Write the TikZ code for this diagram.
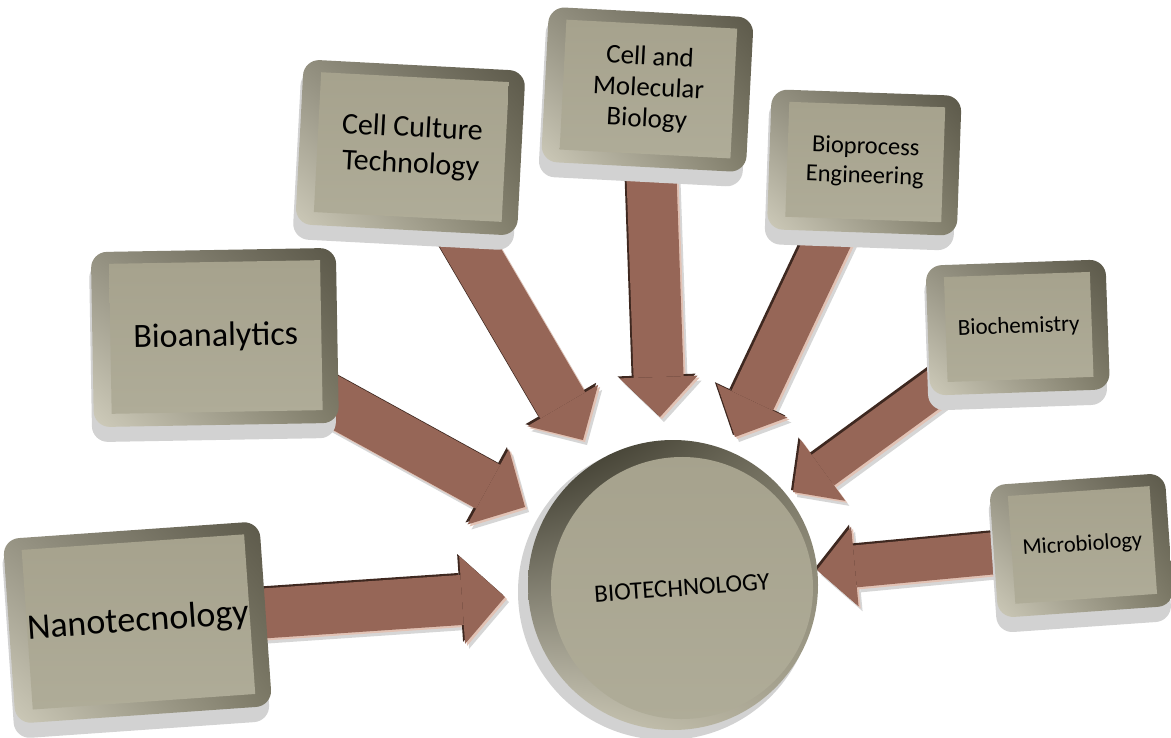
\documentclass[tikz,border=0pt]{standalone}
\usepackage{fontspec}
\setmainfont{Carlito}
\usetikzlibrary{arrows.meta,shadings}
\pgfdeclarelayer{bg}
\pgfsetlayers{bg,main}
\definecolor{facetop}{HTML}{A6A28D}
\definecolor{facebot}{HTML}{AFAC98}
\definecolor{facecol}{HTML}{AAA692}
\definecolor{slabgray}{HTML}{D2D2D2}
\definecolor{bevTL}{HTML}{939080}
\definecolor{bevTR}{HTML}{5A5748}
\definecolor{bevBL}{HTML}{D0CDBC}
\definecolor{bevBR}{HTML}{7F7C69}
\definecolor{arrowbrown}{HTML}{966657}
\definecolor{arrowdark}{HTML}{3E2820}
\definecolor{arrowlight}{HTML}{E2C2B4}
\definecolor{shadowgray}{HTML}{D6D6D6}
\definecolor{rimdark}{HTML}{2E2C20}
\tikzset{
  facebox/.style={draw=none, top color=facetop, bottom color=facebot,
    inner sep=0pt, align=center, transform shape, text=black},
  flowarrow/.style n args={3}{line width=#1pt,
    -{Triangle[width=#2pt, length=#3pt, line width=0pt]}},
}
\newcommand{\bevelbox}[8]{%
  \begin{scope}[shift={(#2,#3)}, rotate=#6]
    \pgfmathsetmacro\hw{#4/2}\pgfmathsetmacro\hh{#5/2}%
    \pgfmathsetmacro\fw{#4-34}\pgfmathsetmacro\fh{#5-40}%
    \fill[slabgray, rounded corners=16] (-\hw-2,-\hh+10) rectangle (\hw-3,\hh);
    \shade[rounded corners=16, upper left=bevTL, upper right=bevTR,
      lower left=bevBL, lower right=bevBR] (-\hw,-\hh) rectangle (\hw,\hh-15);
    \node[facebox, minimum width=\fw pt, minimum height=\fh pt, font={#7}]
      (#1) at (1,-8) {#8};
  \end{scope}}
\newcommand{\flowline}[5]{%
  \draw[flowarrow={#3}{#4}{#5}, color=shadowgray,
    transform canvas={shift={(4,5)}}] (#1.center) -- (#2);
  \draw[flowarrow={#3}{#4}{#5}, color=arrowlight,
    transform canvas={shift={(2,2)}}] (#1.center) -- (#2);
  \draw[flowarrow={#3}{#4}{#5}, color=arrowdark,
    transform canvas={shift={(-2,-2)}}] (#1.center) -- (#2);
  \draw[flowarrow={#3}{#4}{#5}, color=arrowbrown] (#1.center) -- (#2);}
\begin{document}
\begin{tikzpicture}[x=1pt, y=-1pt]
  \useasboundingbox (0,0) rectangle (1171,738);
  \begin{pgfonlayer}{bg}
    \fill[white] (0,0) rectangle (1171,738);
  \end{pgfonlayer}

  % central disc
  \fill[slabgray] (666,592) circle (148pt);
  \shade[upper left=rimdark, upper right=bevTR!60!facecol,
    lower left=bevBL, lower right=facecol] (673,585) circle (145pt);
  \node[circle, top color=facetop, bottom color=facebot, minimum size=262pt,
    inner sep=0pt, rotate=4, font={\fontsize{25}{30}\selectfont}]
    (tech) at (682,588) {BIOTECHNOLOGY};

  % boxes
  \bevelbox{nano}{138}{630}{257}{200}{4}{\fontsize{36}{40}\selectfont}{Nanotecnology}
  \bevelbox{bioan}{215}{345}{245}{190}{1}{\fontsize{34}{38}\selectfont}{Bioanalytics}
  \bevelbox{cellcult}{410}{155}{222}{180}{-3}{\fontsize{30}{36}\selectfont}{Cell Culture\\Technology}
  \bevelbox{cellmol}{647}{97}{205}{170}{-3}{\fontsize{27}{31}\selectfont}{Cell and\\Molecular\\Biology}
  \bevelbox{bioproc}{864}{170}{190}{155}{-2}{\fontsize{24.5}{29}\selectfont}{Bioprocess\\Engineering}
  \bevelbox{biochem}{1018}{335}{180}{145}{2}{\fontsize{23}{27}\selectfont}{Biochemistry}
  \bevelbox{micro}{1082}{553}{176}{148}{4}{\fontsize{22.5}{27}\selectfont}{Microbiology}

  % arrow tips
  \coordinate (tNano) at (505,597);
  \coordinate (tBioan) at (525,507);
  \coordinate (tCellcult) at (583,440);
  \coordinate (tCellmol) at (660,417);
  \coordinate (tBioproc) at (735,437);
  \coordinate (tBiochem) at (793,492);
  \coordinate (tMicro) at (817,570);

  \begin{pgfonlayer}{bg}
    \flowline{nano}{tNano}{50}{88}{43}
    \flowline{bioan}{tBioan}{50}{86}{42}
    \flowline{cellcult}{tCellcult}{52}{82}{40}
    \flowline{cellmol}{tCellmol}{50}{78}{40}
    \flowline{bioproc}{tBioproc}{46}{78}{40}
    \flowline{biochem}{tBiochem}{38}{76}{37}
    \flowline{micro}{tMicro}{42}{80}{38}
  \end{pgfonlayer}
\end{tikzpicture}
\end{document}
